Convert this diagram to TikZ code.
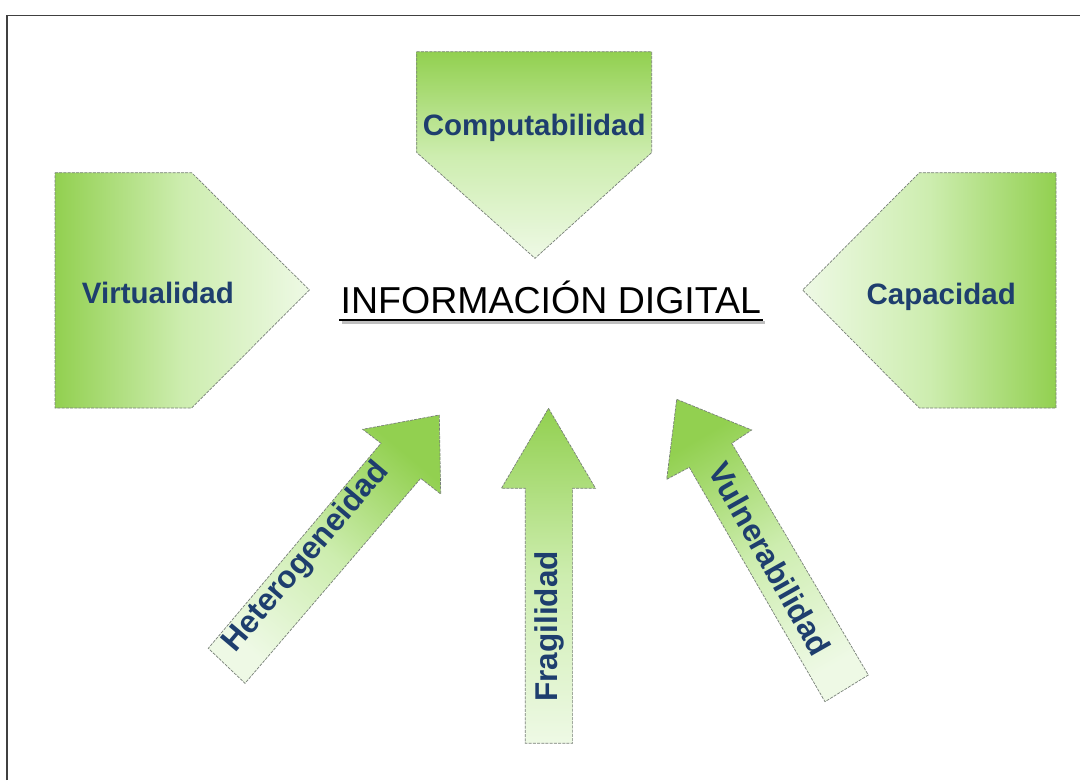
\documentclass[tikz,border=0pt]{standalone}
\usepackage{fontspec}
\setmainfont{Liberation Sans}
\usetikzlibrary{calc}
\definecolor{gdark}{RGB}{146,208,80}
\definecolor{gmid}{RGB}{205,237,175}
\definecolor{glight}{RGB}{238,249,229}
\definecolor{txtblue}{RGB}{30,62,110}
\definecolor{edgegray}{RGB}{120,128,120}
\begin{document}
\begin{tikzpicture}[x=1pt,y=-1pt,
  shapeedge/.style={draw=edgegray, line width=0.7pt, dash pattern=on 3pt off 1.2pt},
  lbl/.style={text=txtblue, font=\fontsize{29.5}{34}\selectfont\bfseries, inner sep=0pt},
  arrowlbl/.style={lbl, font=\fontsize{31.5}{36}\selectfont\bfseries},
  titlefont/.style={font=\fontsize{37.5}{42}\selectfont, inner sep=0pt}]
\useasboundingbox (0,0) rectangle (1080,780);
\fill[white] (0,0) rectangle (1080,780);
% frame
\coordinate (fb) at (6.9,780);
\coordinate (fc) at (6.9,15.3);
\coordinate (fr) at (1080,15.3);
\draw[black!75, line width=1.3pt] (fb) -- (fc) -- (fr);
% Virtualidad (points right)
\path[shapeedge, left color=gdark, right color=glight, middle color=gmid]
  (55,172.7) -- (191.7,172.7) -- (309.3,290) -- (191.7,408) -- (55,408) -- cycle;
% Capacidad (points left)
\path[shapeedge, left color=glight, right color=gdark, middle color=gmid]
  (1056,172.7) -- (919.3,172.7) -- (802.7,290) -- (919.3,408) -- (1056,408) -- cycle;
% Computabilidad (points down)
\path[shapeedge, top color=gdark, bottom color=glight, middle color=gmid]
  (416.7,51.7) -- (651.7,51.7) -- (651.7,152.5) -- (535,258.3) -- (416.7,152.5) -- cycle;
% Fragilidad arrow
\path[shapeedge, top color=gdark, bottom color=glight, middle color=gmid]
  (548.5,408.3) -- (595.5,488.3) -- (572.6,488.3) -- (572.6,743.3) -- (525.3,743.3)
  -- (525.3,488.3) -- (501.4,488.3) -- cycle;
% Heterogeneidad arrow
\path[shapeedge, top color=gdark, bottom color=glight, middle color=gmid, shading angle=-40]
  (439.3,415) -- (440.7,494) -- (420.7,478.3) -- (245,683.3) -- (208.3,648.3)
  -- (381,443.3) -- (362.7,429.3) -- cycle;
% Vulnerabilidad arrow
\path[shapeedge, top color=gdark, bottom color=glight, middle color=gmid, shading angle=30]
  (676.7,399.3) -- (751.7,430) -- (731.7,443.3) -- (868.3,675) -- (825,701.7)
  -- (689.3,467.3) -- (666.7,479.3) -- cycle;
% labels
\node[lbl, anchor=base] (virt) at (157.9,303.3) {Virtualidad};
\node[lbl, anchor=base] (capa) at (941.2,304) {Capacidad};
\node[lbl, anchor=base] (comp) at (534.2,135) {Computabilidad};
\node[arrowlbl, rotate=90] (frag) at (549.5,626.5) {Fragilidad};
\node[arrowlbl, rotate=49.7] (hete) at (306.5,557.5) {Heterogeneidad};
\node[arrowlbl, rotate=-60.5] (vuln) at (770,559) {Vulnerabilidad};
% title with underline shadow
\node[titlefont, anchor=base] (title) at (550.8,313.3) {INFORMACIÓN DIGITAL};
\draw[black!25, line width=2.6pt] ($(title.base west)+(1,9.2)$) -- ($(title.base east)+(4,9.2)$);
\draw[black, line width=2pt] ($(title.base west)+(-1.5,6.7)$) -- ($(title.base east)+(1.5,6.7)$);
\end{tikzpicture}
\end{document}
